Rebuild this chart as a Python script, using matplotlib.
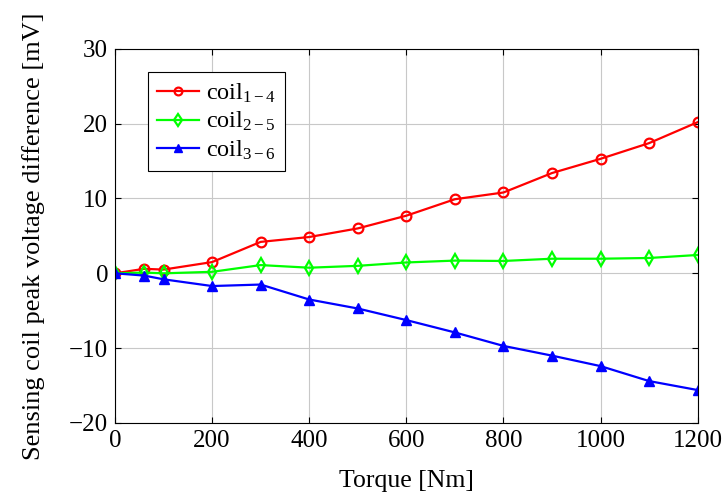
import matplotlib
matplotlib.use("Agg")
import matplotlib.pyplot as plt

plt.rcParams['font.family'] = ['Liberation Serif', 'DejaVu Serif']
plt.rcParams['mathtext.fontset'] = 'custom'
plt.rcParams['mathtext.rm'] = 'Liberation Serif'
plt.rcParams['mathtext.it'] = 'Liberation Serif:italic'

torque = [0, 60, 100, 200, 300, 400, 500, 600, 700, 800, 900, 1000, 1100, 1200]
coil_14 = [0, 0.6, 0.5, 1.5, 4.2, 4.85, 6.0, 7.7, 9.9, 10.8, 13.4, 15.3, 17.4, 20.2]
coil_25 = [0, 0.1, 0.0, 0.2, 1.1, 0.75, 1.0, 1.45, 1.7, 1.65, 1.95, 1.95, 2.05, 2.45]
coil_36 = [0, -0.3, -0.8, -1.7, -1.5, -3.5, -4.7, -6.25, -7.9, -9.7, -11.0, -12.4, -14.4, -15.6]

fig = plt.figure(figsize=(7.23, 4.93), dpi=100)
ax = fig.add_axes([0.159, 0.142, 0.806, 0.759])

ax.plot(torque, coil_14, color='red', lw=1.6, marker='o', ms=7,
        mfc='none', mew=1.6, label=r'coil$_{1-4}$')
ax.plot(torque, coil_25, color='#00ff00', lw=1.6, marker='d', ms=7.5,
        mfc='none', mew=1.6, label=r'coil$_{2-5}$')
ax.plot(torque, coil_36, color='blue', lw=1.6, marker='^', ms=7,
        label=r'coil$_{3-6}$')

ax.set_xlim(0, 1200)
ax.set_ylim(-20, 30)
ax.set_xticks(range(0, 1201, 200))
ax.set_yticks(range(-20, 31, 10))
ax.grid(True, color='#c8c8c8', lw=0.8)
ax.set_axisbelow(True)
ax.tick_params(direction='in', top=True, right=True, labelsize=18, length=4, pad=5)
for s in ax.spines.values():
    s.set_linewidth(0.8)

ax.set_xlabel('Torque [Nm]', fontsize=18.5, labelpad=13)
ax.set_ylabel('Sensing coil peak voltage difference [mV]', fontsize=19, labelpad=17)

leg = ax.legend(loc='upper left', bbox_to_anchor=(0.035, 0.97), fontsize=17.5,
                fancybox=False, edgecolor='black', framealpha=1,
                handlelength=1.7, handletextpad=0.3, borderpad=0.4,
                labelspacing=0.2, markerscale=0.8)
leg.get_frame().set_linewidth(0.8)

fig.savefig('out.png', dpi=100)
